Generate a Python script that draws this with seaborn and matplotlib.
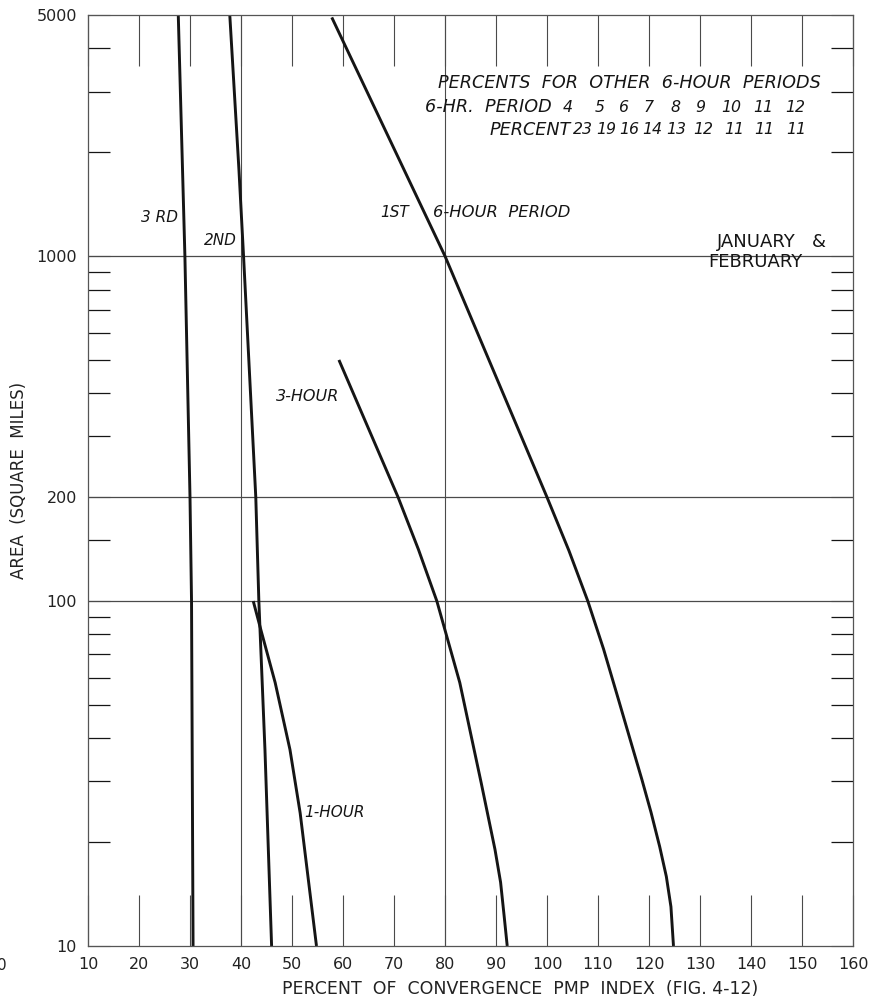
import matplotlib
matplotlib.use("Agg")
import matplotlib.pyplot as plt
import pandas as pd
import seaborn as sns
from matplotlib.ticker import FixedLocator, FixedFormatter, NullFormatter

# Percent of convergence PMP index (x) against area in square miles (y)
third_pct = [27.7, 29.0, 30.0, 30.3, 30.6]
third_area = [5000, 1000, 200, 100, 10]

second_pct = [37.8, 39.6, 40.5, 42.9, 43.5, 44.7, 46.0]
second_area = [5000, 1776, 1000, 200, 100, 37, 10]

first_pct = [57.8, 80.0, 100.0, 104.3, 108.0, 111.1, 114.0, 116.3, 118.6,
             120.4, 122.1, 123.4, 124.3, 124.8]
first_area = [4920, 1000, 200, 140, 100, 72.5, 51.9, 39.7, 30.4,
              24.4, 19.4, 15.9, 13.0, 10]

three_hr_pct = [59.2, 70.8, 74.8, 78.4, 82.9, 87.1, 89.8, 90.9, 91.6, 92.2]
three_hr_area = [500, 200, 141, 100, 58, 29.7, 19.05, 15.3, 12.2, 10]

one_hr_pct = [42.4, 43.7, 46.7, 49.6, 51.6, 54.8]
one_hr_area = [100, 84.6, 58, 37.1, 24.3, 10]

# Percents for the later 6-hour periods
other_periods = [4, 5, 6, 7, 8, 9, 10, 11, 12]
other_percents = [23, 19, 16, 14, 13, 12, 11, 11, 11]

x_ticks = list(range(10, 161, 10))
y_ticks = [10, 100, 200, 1000, 5000]
y_minor = [20, 30, 40, 50, 60, 70, 80, 90, 150,
           300, 400, 500, 600, 700, 800, 900, 2000, 3000, 4000]
x_grid = [40, 80]
y_grid = [100, 200, 1000]

curves = [
    ("3RD", third_pct, third_area),
    ("2ND", second_pct, second_area),
    ("1ST", first_pct, first_area),
    ("3-HOUR", three_hr_pct, three_hr_area),
    ("1-HOUR", one_hr_pct, one_hr_area),
]

sns.set_theme(style="white")
plt.rcParams["font.family"] = ["DejaVu Sans"]

INK = "#151515"
GRID = "#4a4a4a"

fig = plt.figure(figsize=(8.72, 10.05), dpi=100)
ax = fig.add_axes([88 / 872, 59 / 1005, 765 / 872, 931 / 1005])

for name, pct, area in curves:
    df = pd.DataFrame({"pct": pct, "area": area})
    sns.lineplot(data=df, x="pct", y="area", sort=False, estimator=None,
                 color=INK, lw=2.1, ax=ax)
for line in ax.lines:
    line.set_solid_joinstyle("round")
    line.set_solid_capstyle("butt")

ax.set_yscale("log")
ax.set_xlim(10, 160)
ax.set_ylim(10, 5000)

for xv in x_grid:
    ax.axvline(xv, color=GRID, lw=0.8, zorder=1)
for yv in y_grid:
    ax.axhline(yv, color=GRID, lw=0.9, zorder=1)

ax.xaxis.set_major_locator(FixedLocator(x_ticks))
ax.xaxis.set_major_formatter(FixedFormatter([str(v) for v in x_ticks]))
ax.yaxis.set_major_locator(FixedLocator(y_ticks))
ax.yaxis.set_major_formatter(FixedFormatter([str(v) for v in y_ticks]))
ax.yaxis.set_minor_locator(FixedLocator(y_minor))
ax.yaxis.set_minor_formatter(NullFormatter())
ax.xaxis.set_minor_locator(FixedLocator([]))

ax.tick_params(axis="x", which="major", direction="in", length=37, width=0.8,
               color=GRID, top=True, bottom=True, pad=8,
               labelsize=11.5, labelcolor="#222222")
ax.tick_params(axis="y", which="major", direction="in", length=16, width=0.8,
               color=GRID, left=True, right=True, pad=8,
               labelsize=11.5, labelcolor="#222222")
ax.tick_params(axis="y", which="minor", direction="in", length=16, width=0.9,
               color=INK, left=True, right=True)

for sp in ax.spines.values():
    sp.set_color("#555555")
    sp.set_linewidth(0.9)

ax.set_xlabel("PERCENT  OF  CONVERGENCE  PMP  INDEX  (FIG. 4-12)",
              fontsize=12.5, color="#222222")
ax.set_ylabel("AREA  (SQUARE  MILES)", fontsize=12, color="#222222")
ax.xaxis.set_label_coords(0.565, -0.036)
ax.yaxis.set_label_coords(-0.078, 0.5)

lab = dict(fontsize=11, style="italic", color=INK)
ax.text(24.1, 1298, "3 RD", ha="center", va="center", **lab)
ax.text(35.9, 1113, "2ND", ha="center", va="center", **lab)
ax.text(70.2, 1342, "1ST", ha="center", va="center", **lab)
ax.text(77.6, 1342, "6-HOUR  PERIOD", ha="left", va="center",
        fontsize=11.8, style="italic", color=INK)
ax.text(53.0, 393, "3-HOUR", ha="center", va="center",
        fontsize=11.5, style="italic", color=INK)
ax.text(58.4, 24.3, "1-HOUR", ha="center", va="center", **lab)

head = dict(fontsize=12.7, style="italic", color=INK)
nums = dict(fontsize=11.3, style="italic", color=INK)
ax.text(116.2, 3177, "PERCENTS  FOR  OTHER  6-HOUR  PERIODS",
        ha="center", va="center", **head)
ax.text(101.0, 2705, "6-HR.  PERIOD", ha="right", va="center", **head)
ax.text(104.6, 2321, "PERCENT", ha="right", va="center",
        fontsize=12.7, style="italic", color=INK)

period_cols = [104.0, 110.4, 115.0, 119.9, 125.1, 130.0, 136.2, 142.4, 148.6]
percent_cols = [107.0, 111.6, 116.2, 120.6, 125.4, 130.6, 136.7, 142.6, 148.8]
for xc, p in zip(period_cols, other_periods):
    ax.text(xc, 2705, str(p), ha="center", va="center", **nums)
for xc, p in zip(percent_cols, other_percents):
    ax.text(xc, 2321, str(p), ha="center", va="center", **nums)

ax.text(154.9, 1099, "JANUARY   &", ha="right", va="center",
        fontsize=13, color=INK)
ax.text(140.8, 961, "FEBRUARY", ha="center", va="center",
        fontsize=13, color=INK)

fig.text(-0.004, 0.039, "0", fontsize=11, color="#222222", va="center")

fig.savefig("out.png", dpi=100)
